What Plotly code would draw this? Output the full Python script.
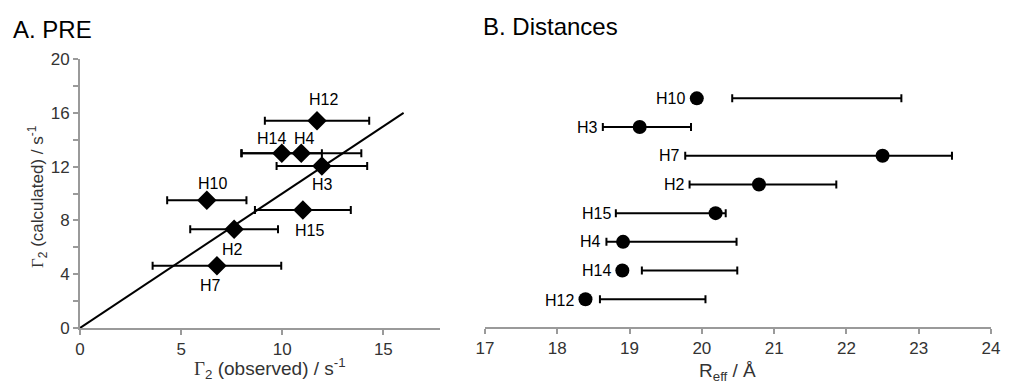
import plotly.graph_objects as go

# ---- Panel A: PRE ----
pre_labels = ["H12", "H14", "H4", "H3", "H10", "H15", "H2", "H7"]
pre_observed = [11.72, 9.98, 10.94, 11.96, 6.27, 11.02, 7.62, 6.77]
pre_calculated = [15.4, 13.0, 13.0, 12.05, 9.5, 8.77, 7.35, 4.62]
pre_error = [2.58, 1.98, 2.97, 2.24, 1.96, 2.37, 2.17, 3.18]
# label offsets (px) and placement
pre_label_pos = {"H12": (6, 21), "H14": (-10, 15), "H4": (3, 15), "H3": (1, -19),
                 "H10": (6, 17), "H15": (7, -20), "H2": (-2, -20), "H7": (-6, -20)}
diag_x = [0, 16]

# ---- Panel B: Distances ----
dist_labels = ["H12", "H14", "H4", "H15", "H2", "H7", "H3", "H10"]
dist_reff = [18.39, 18.90, 18.91, 20.19, 20.79, 22.50, 19.14, 19.93]
dist_low = [18.59, 19.17, 18.68, 18.81, 19.83, 19.77, 18.63, 20.42]
dist_high = [20.05, 20.49, 20.48, 20.33, 21.86, 23.46, 19.85, 22.76]

# page body has an 8px margin, so the figure starts at (8, 8)
OFF = 8
W, H = 1013 - OFF, 389 - OFF
AX_COLOR = "#9a9a9a"
FONT = "Liberation Sans, Arial, sans-serif"

def px_x(p):
    return (p - OFF) / W

def px_y(p):
    return 1 - (p - OFF) / H

fig = go.Figure()

# diagonal line
fig.add_trace(go.Scatter(x=diag_x, y=diag_x, mode="lines",
                         line=dict(color="black", width=2),
                         xaxis="x", yaxis="y", hoverinfo="skip"))
# PRE points
fig.add_trace(go.Scatter(x=pre_observed, y=pre_calculated, mode="markers",
                         marker=dict(symbol="diamond", size=15, color="black"),
                         error_x=dict(type="data", array=pre_error, visible=True,
                                      color="black", thickness=2, width=4),
                         xaxis="x", yaxis="y"))

# Distances: error bars (not necessarily centred on the point)
rows = list(range(1, len(dist_labels) + 1))
mid = [(lo + hi) / 2 for lo, hi in zip(dist_low, dist_high)]
half = [(hi - lo) / 2 for lo, hi in zip(dist_low, dist_high)]
fig.add_trace(go.Scatter(x=mid, y=rows, mode="markers",
                         marker=dict(size=1, color="rgba(0,0,0,0)"),
                         error_x=dict(type="data", array=half, visible=True,
                                      color="black", thickness=2, width=4),
                         xaxis="x2", yaxis="y2", hoverinfo="skip"))
fig.add_trace(go.Scatter(x=dist_reff, y=rows, mode="markers",
                         marker=dict(symbol="circle", size=14, color="black"),
                         xaxis="x2", yaxis="y2"))

annotations = []
for lab, x, y in zip(pre_labels, pre_observed, pre_calculated):
    dx, dy = pre_label_pos[lab]
    annotations.append(dict(x=x, y=y, xref="x", yref="y", text=lab, showarrow=False,
                            xshift=dx, yshift=dy,
                            font=dict(family=FONT, size=16, color="black")))
for lab, r, lo, row in zip(dist_labels, dist_reff, dist_low, rows):
    left = min(r - 0.09, lo)
    annotations.append(dict(x=left, y=row, xref="x2", yref="y2", text=lab, showarrow=False,
                            xanchor="right", xshift=-3, yshift=-1 if lab == "H12" else 0,
                            font=dict(family=FONT, size=16, color="black")))

# panel titles
annotations.append(dict(x=px_x(11), y=px_y(29), xref="paper", yref="paper", text="A. PRE",
                        showarrow=False, xanchor="left", yanchor="middle",
                        font=dict(family=FONT, size=24, color="black")))
annotations.append(dict(x=px_x(481), y=px_y(27), xref="paper", yref="paper", text="B. Distances",
                        showarrow=False, xanchor="left", yanchor="middle",
                        font=dict(family=FONT, size=24, color="black")))
# axis titles
annotations.append(dict(x=px_x(270), y=px_y(368), xref="paper", yref="paper",
                        text="<span style='font-family:Liberation Serif'>Γ</span><sub>2</sub> (observed) / s<sup>-1</sup>",
                        showarrow=False, xanchor="center", yanchor="middle",
                        font=dict(family=FONT, size=19, color="#333")))
annotations.append(dict(x=px_x(37), y=px_y(197), xref="paper", yref="paper",
                        text="<span style='font-family:Liberation Serif'>Γ</span><sub>2</sub> (calculated) / s<sup>-1</sup>",
                        showarrow=False, xanchor="center", yanchor="middle", textangle=-90,
                        font=dict(family=FONT, size=17, color="#333")))
annotations.append(dict(x=px_x(727), y=px_y(372), xref="paper", yref="paper",
                        text="R<sub>eff</sub> / Å",
                        showarrow=False, xanchor="center", yanchor="middle",
                        font=dict(family=FONT, size=19, color="#333")))

tickfont = dict(family=FONT, size=17, color="#333")
fig.update_layout(
    width=W, height=H,
    margin=dict(l=0, r=0, t=0, b=0),
    paper_bgcolor="white", plot_bgcolor="white",
    showlegend=False,
    font=dict(family=FONT),
    annotations=annotations,
    xaxis=dict(domain=[px_x(80), px_x(440)], range=[0, 17.8], anchor="y",
               tickvals=[0, 5, 10, 15], showgrid=False, zeroline=False,
               showline=True, linecolor=AX_COLOR, linewidth=2,
               ticks="outside", ticklen=5, tickwidth=2, tickcolor=AX_COLOR,
               tickfont=tickfont, automargin=False),
    yaxis=dict(domain=[px_y(328), px_y(59)], range=[0, 20], anchor="x",
               tickmode="linear", tick0=0, dtick=4, showgrid=False, zeroline=False,
               showline=True, linecolor=AX_COLOR, linewidth=2,
               ticks="outside", ticklen=5, tickwidth=2, tickcolor=AX_COLOR,
               minor=dict(dtick=2, ticks="outside", ticklen=5, tickwidth=2, tickcolor=AX_COLOR),
               tickfont=tickfont, automargin=False),
    xaxis2=dict(domain=[px_x(485), px_x(991)], range=[17, 24], anchor="y2",
                tickmode="linear", tick0=17, dtick=1, showgrid=False, zeroline=False,
                showline=True, linecolor=AX_COLOR, linewidth=2,
                ticks="outside", ticklen=5, tickwidth=2, tickcolor=AX_COLOR,
                tickfont=tickfont, automargin=False),
    yaxis2=dict(domain=[px_y(327), px_y(59)], range=[0.034, 9.37], anchor="x2",
                visible=False, showgrid=False, zeroline=False),
)

fig.write_html("out.html")
